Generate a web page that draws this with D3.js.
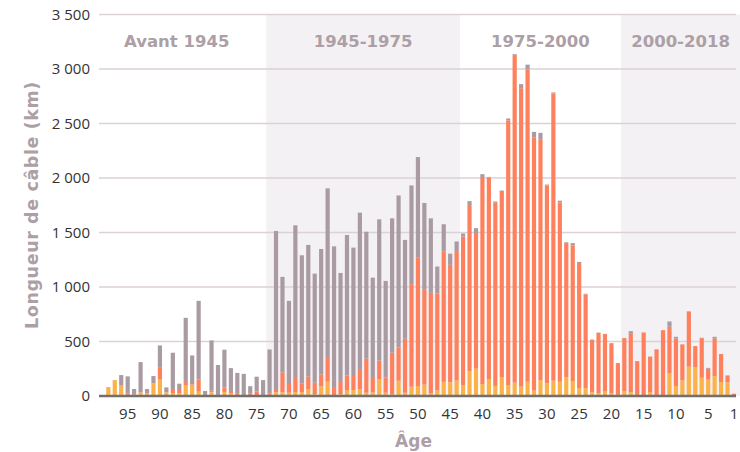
<!DOCTYPE html>
<html>
<head>
<meta charset="utf-8">
<script src="https://cdn.jsdelivr.net/npm/d3@7"></script>
<style>
  body { margin: 0; background: #fff; }
  svg { display: block; font-family: "DejaVu Sans", Verdana, sans-serif; }
</style>
</head>
<body>
<div id="chart"></div>
<script>
// ages (categories), from the oldest to the youngest
var ages = d3.range(98, 0, -1);

// three stacked parts per bar (km), ages 98 -> 1
var jaune = [
  82,146,95,5,5,30,24,116,150,34,
  27,24,95,95,40,0,34,0,37,22,
  0,0,0,0,0,0,34,34,30,37,
  36,61,18,88,131,0,18,55,55,61,
  30,34,156,30,15,140,30,85,92,104,
  27,52,130,125,141,96,228,250,110,150,
  92,171,101,122,85,131,49,146,116,140,
  131,172,132,72,70,35,22,40,22,10,
  46,34,0,5,37,5,5,207,92,143,
  269,262,168,150,183,128,125,0
];
var saumon = [
  0,0,0,20,7,5,0,0,115,0,
  28,31,33,10,113,0,15,5,39,24,
  20,5,21,40,5,22,21,183,80,128,
  77,116,104,110,217,82,110,134,128,186,
  312,131,168,141,382,305,495,941,1181,870,
  919,888,1198,1078,1181,1367,1524,1237,1899,1856,
  1682,1710,2427,2998,2739,2864,2320,2204,1814,2635,
  1646,1231,1248,1148,863,478,558,528,462,292,
  485,543,320,578,323,422,599,428,436,330,
  506,196,363,100,342,257,64,21
];
var gris = [
  0,0,97,155,52,276,40,67,199,45,
  342,58,589,267,720,46,461,279,349,210,
  192,198,69,137,141,405,1459,876,763,1401,
  1178,1209,1001,1151,1557,1291,1001,1288,1178,1435,
  1165,921,1297,885,1233,1395,907,906,919,797,
  684,248,248,103,96,28,36,53,26,4,
  11,4,18,16,37,45,54,64,10,10,
  15,7,23,10,5,5,2,2,2,0,
  2,18,0,0,2,3,0,49,15,2,
  3,0,3,8,18,0,0,0
];

var xTicks = [95,90,85,80,75,70,65,60,55,50,45,40,35,30,25,20,15,10,5,1];
var yTicks = [0,500,1000,1500,2000,2500,3000,3500];

// periods: label, first and last age
var periodes = ["Avant 1945", "1945-1975", "1975-2000", "2000-2018"];
var periodeDe = [98, 73, 43, 18];
var periodeA  = [74, 44, 19, 1];
var periodeGrise = [false, true, false, true];

var keys = ["jaune", "saumon", "gris"];
var color = d3.scaleOrdinal().domain(keys).range(["#fbb24b", "#fe805c", "#aa9ba3"]);

var W = 740, H = 452;
var margin = {top: 14.5, right: 4, bottom: 56, left: 99};

var data = ages.map(function(a, i) {
  return {age: a, jaune: jaune[i], saumon: saumon[i], gris: gris[i]};
});

var svg = d3.select("#chart").append("svg")
  .attr("width", W).attr("height", H);

var y = d3.scaleLinear().domain([0, 3500]).range([H - margin.bottom, margin.top]);
var x = d3.scaleBand().domain(ages).range([105.1, 737.2])
  .paddingInner(0.35).paddingOuter(0.175);

var gap = (x.step() - x.bandwidth()) / 2;

// shaded periods
periodes.forEach(function(p, i) {
  var x0 = i == 0 ? margin.left - 12 : x(periodeDe[i]) - gap;
  var x1 = i == periodes.length - 1 ? W : x(periodeA[i]) + x.bandwidth() + gap;
  if (periodeGrise[i]) {
    svg.append("rect")
      .attr("x", x0).attr("y", y(3500))
      .attr("width", x1 - x0).attr("height", y(0) - y(3500))
      .attr("fill", "#f3f1f3");
  }
  svg.append("text")
    .attr("x", (x0 + x1) / 2).attr("y", 47)
    .attr("text-anchor", "middle")
    .attr("font-weight", "bold").attr("font-size", "16.5px")
    .attr("fill", "#ac9fa6")
    .text(p);
});

// grid
svg.append("g").selectAll("line")
  .data(yTicks.filter(function(t) { return t > 0; }))
  .enter().append("line")
  .attr("x1", margin.left).attr("x2", W - margin.right)
  .attr("y1", function(d) { return y(d); })
  .attr("y2", function(d) { return y(d); })
  .attr("stroke", "#dbd1d6").attr("stroke-width", 1.5);

// y labels
var fr = d3.formatLocale({decimal: ",", thousands: " ", grouping: [3], currency: ["", " €"]});
var yAxis = svg.append("g")
  .attr("transform", "translate(" + margin.left + ",0)")
  .call(d3.axisLeft(y).tickValues(yTicks).tickFormat(fr.format(",d")).tickSize(0).tickPadding(9));
yAxis.select(".domain").remove();
yAxis.selectAll("text")
  .attr("font-family", "'Open Sans', sans-serif")
  .attr("font-size", "15px").attr("fill", "#333");

// bars
var stacked = d3.stack().keys(keys)(data);
svg.append("g").selectAll("g")
  .data(stacked)
  .enter().append("g")
  .attr("fill", function(d) { return color(d.key); })
  .selectAll("rect")
  .data(function(d) { return d; })
  .enter().append("rect")
  .attr("x", function(d) { return x(d.data.age); })
  .attr("y", function(d) { return y(d[1]); })
  .attr("height", function(d) { return y(d[0]) - y(d[1]); })
  .attr("width", x.bandwidth());

// x axis
svg.append("line")
  .attr("x1", margin.left).attr("x2", W - margin.right)
  .attr("y1", y(0)).attr("y2", y(0))
  .attr("stroke", "#707070").attr("stroke-width", 2.5);

var xAxis = svg.append("g")
  .attr("transform", "translate(0," + y(0) + ")")
  .call(d3.axisBottom(x).tickValues(xTicks).tickSize(0).tickPadding(12));
xAxis.select(".domain").remove();
xAxis.selectAll("text")
  .attr("font-family", "'Open Sans', sans-serif")
  .attr("font-size", "15px").attr("fill", "#333");

// axis titles
svg.append("text")
  .attr("x", (margin.left + W) / 2 - 6).attr("y", 447)
  .attr("text-anchor", "middle")
  .attr("font-weight", "bold").attr("font-size", "17px")
  .attr("fill", "#ac9fa6")
  .text("Âge");

svg.append("text")
  .attr("transform", "translate(38,205)rotate(-90)")
  .attr("text-anchor", "middle")
  .attr("font-weight", "bold").attr("font-size", "17.5px")
  .attr("letter-spacing", "0.6px")
  .attr("fill", "#ac9fa6")
  .text("Longueur de câble (km)");
</script>
</body>
</html>
